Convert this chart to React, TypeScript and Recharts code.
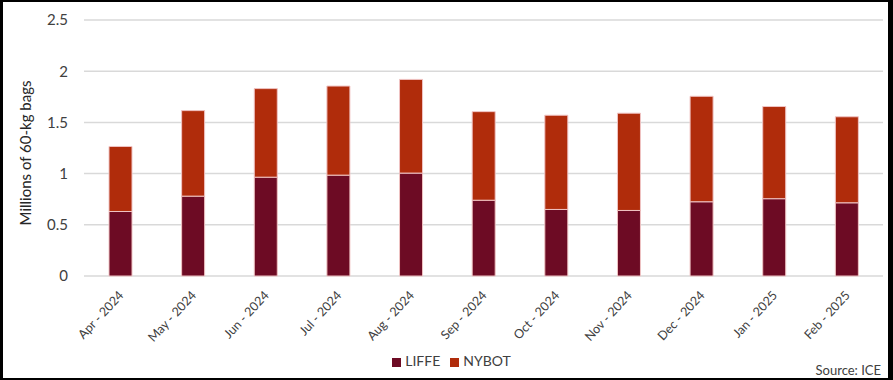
import React from 'react';
import { BarChart, Bar, XAxis, YAxis, CartesianGrid, Legend } from 'recharts';

const months = ['Apr - 2024', 'May - 2024', 'Jun - 2024', 'Jul - 2024', 'Aug - 2024', 'Sep - 2024', 'Oct - 2024', 'Nov - 2024', 'Dec - 2024', 'Jan - 2025', 'Feb - 2025'];
const liffe = [0.63, 0.78, 0.965, 0.985, 1.005, 0.74, 0.65, 0.64, 0.725, 0.755, 0.715];
const nybot = [0.635, 0.835, 0.865, 0.87, 0.915, 0.865, 0.92, 0.95, 1.03, 0.9, 0.84];
const yTicks = [0, 0.5, 1, 1.5, 2, 2.5];

const data = months.map((m, i) => ({ month: m, LIFFE: liffe[i], NYBOT: nybot[i] }));

const FONT = 'Lato, "Open Sans", sans-serif';

const XTick = (props: any) => {
  const { x, y, payload } = props;
  return (
    <g transform={`translate(${x + 4},${y + 18})`}>
      <text x={0} y={0} textAnchor="end" transform="rotate(-47)" fontSize={12.5} fill="#404040" fontFamily={FONT}>
        {payload.value}
      </text>
    </g>
  );
};

const YLabel = (props: any) => {
  const vb = props.viewBox;
  const cx = vb.x + 25;
  const cy = vb.y + vb.height / 2 + 5;
  return (
    <text transform={`translate(${cx},${cy}) rotate(-90)`} textAnchor="middle" dominantBaseline="central" fontSize={15} fill="#262626" fontFamily={FONT}>
      Millions of 60-kg bags
    </text>
  );
};

export default function App() {
  return (
    <div style={{ position: 'absolute', left: 0, top: 0, width: 893, height: 380, background: '#fff', fontFamily: FONT }}>
      <BarChart width={893} height={380} data={data} margin={{ top: 20, right: 10, left: 0, bottom: 0 }} barSize={23}>
        <CartesianGrid horizontal vertical={false} stroke="#d9d9d9" strokeWidth={1.5} />
        <XAxis dataKey="month" axisLine={false} tickLine={false} tickSize={0} tick={<XTick />} interval={0} height={104} />
        <YAxis
          domain={[0, 2.5]}
          ticks={yTicks}
          axisLine={false}
          tickLine={false}
          tickSize={0}
          tickMargin={16}
          width={84}
          tick={{ fontSize: 15, fill: '#404040', fontFamily: FONT }}
          label={{ content: <YLabel /> }}
        />
        <Legend
          verticalAlign="middle"
          align="center"
          layout="horizontal"
          iconType="square"
          iconSize={9}
          wrapperStyle={{ top: 352, left: 15, width: 883, fontSize: 14, fontFamily: FONT }}
          formatter={(v: any) => <span style={{ color: '#404040' }}>{v}</span>}
        />
        <Bar dataKey="LIFFE" stackId="a" fill="#6d0b24" stroke="#f0c4c4" strokeWidth={1} isAnimationActive={false} />
        <Bar dataKey="NYBOT" stackId="a" fill="#b02c0b" stroke="#f0c4c4" strokeWidth={1} isAnimationActive={false} />
      </BarChart>
      <div style={{ position: 'absolute', right: 12, top: 362, fontSize: 13, color: '#404040', lineHeight: '16px' }}>Source: ICE</div>
      <div style={{ position: 'absolute', left: 0, top: 0, width: 893, height: 380, boxSizing: 'border-box', borderStyle: 'solid', borderColor: '#000', borderWidth: '2px 5px 2px 3px', pointerEvents: 'none' }} />
    </div>
  );
}
